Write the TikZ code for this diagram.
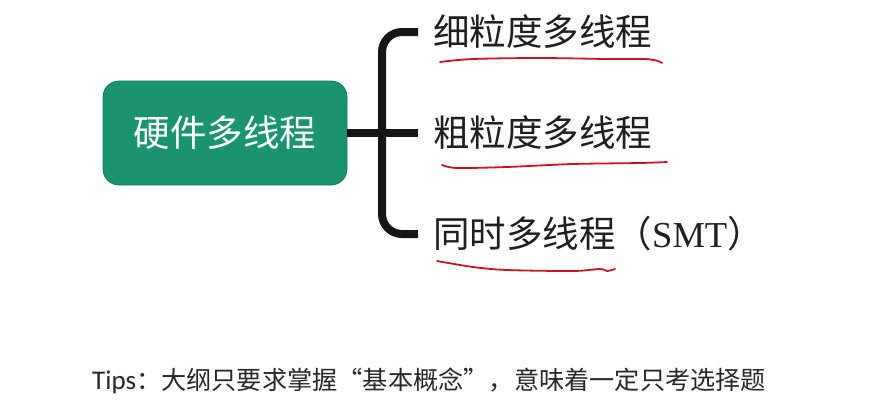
\documentclass[tikz,border=0pt]{standalone}
\usepackage{fontspec}
\usepackage{tikz}
\usetikzlibrary{positioning,calc}
\newfontfamily\cjk{Noto Sans CJK SC}
\newfontfamily\latinsans{Carlito}
\newfontfamily\latinserif{Liberation Serif}
\definecolor{hwgreen}{RGB}{27,147,114}
\definecolor{hwedge}{RGB}{20,120,92}
\definecolor{barblack}{RGB}{22,22,22}
\definecolor{inkred}{RGB}{196,22,36}
\definecolor{tiptext}{RGB}{40,40,40}
\tikzset{
  root/.style={rectangle,rounded corners=16pt,draw=hwedge,line width=0.8pt,fill=hwgreen,
               text=white,minimum width=244pt,minimum height=104pt,align=center,
               font=\cjk\fontsize{36.5}{40}\selectfont},
  leaf/.style={anchor=west,inner sep=0pt,text=black!88,font=\cjk\fontsize{36.5}{40}\selectfont},
  bar/.style={draw=barblack,line width=8pt},
  ink/.style={draw=inkred,line width=1.8pt,line cap=round,line join=round},
  tip/.style={anchor=west,inner sep=0pt,text=tiptext,font=\cjk\fontsize{25.2}{28}\selectfont},
}
\begin{document}
\begin{tikzpicture}[x=1pt,y=-1pt]
  \useasboundingbox (0,0) rectangle (869,408);
  \node[root] (hw) at (225,133) {硬件多线程};
  \coordinate (j) at (382,133);
  \node[leaf] (fine)   at (433,32)  {细粒度多线程};
  \node[leaf] (coarse) at (433,133) {粗粒度多线程};
  \node[leaf] (simul)  at (433,234) {同时多线程（{\latinserif SMT}）};
  % bracket: stem from the box, then the three ticks
  \draw[bar] (hw.east) -- ([xshift=-15pt]coarse.west);
  \draw[bar,rounded corners=20pt] ([xshift=-15pt]fine.west) -| (j |- simul.west)
        -- ([xshift=-15pt]simul.west);
  % hand-drawn red underlines
  \draw[ink] plot[smooth] coordinates {(440,62) (473,59) (540,58) (607,59) (645,59) (658,61) (662,63)};
  \draw[ink] plot[smooth] coordinates {(442,165) (457,168) (507,167) (573,164) (640,163) (667,162)};
  \draw[ink] plot[smooth] coordinates {(437,261) (473,267) (507,270) (573,271) (600,269) (607,271) (615,269)};
  \node[tip] (tips) at (92,381) {{\latinsans\fontsize{27}{28}\selectfont Tips}：大纲只要求掌握“基本概念”，意味着一定只考选择题};
\end{tikzpicture}
\end{document}
